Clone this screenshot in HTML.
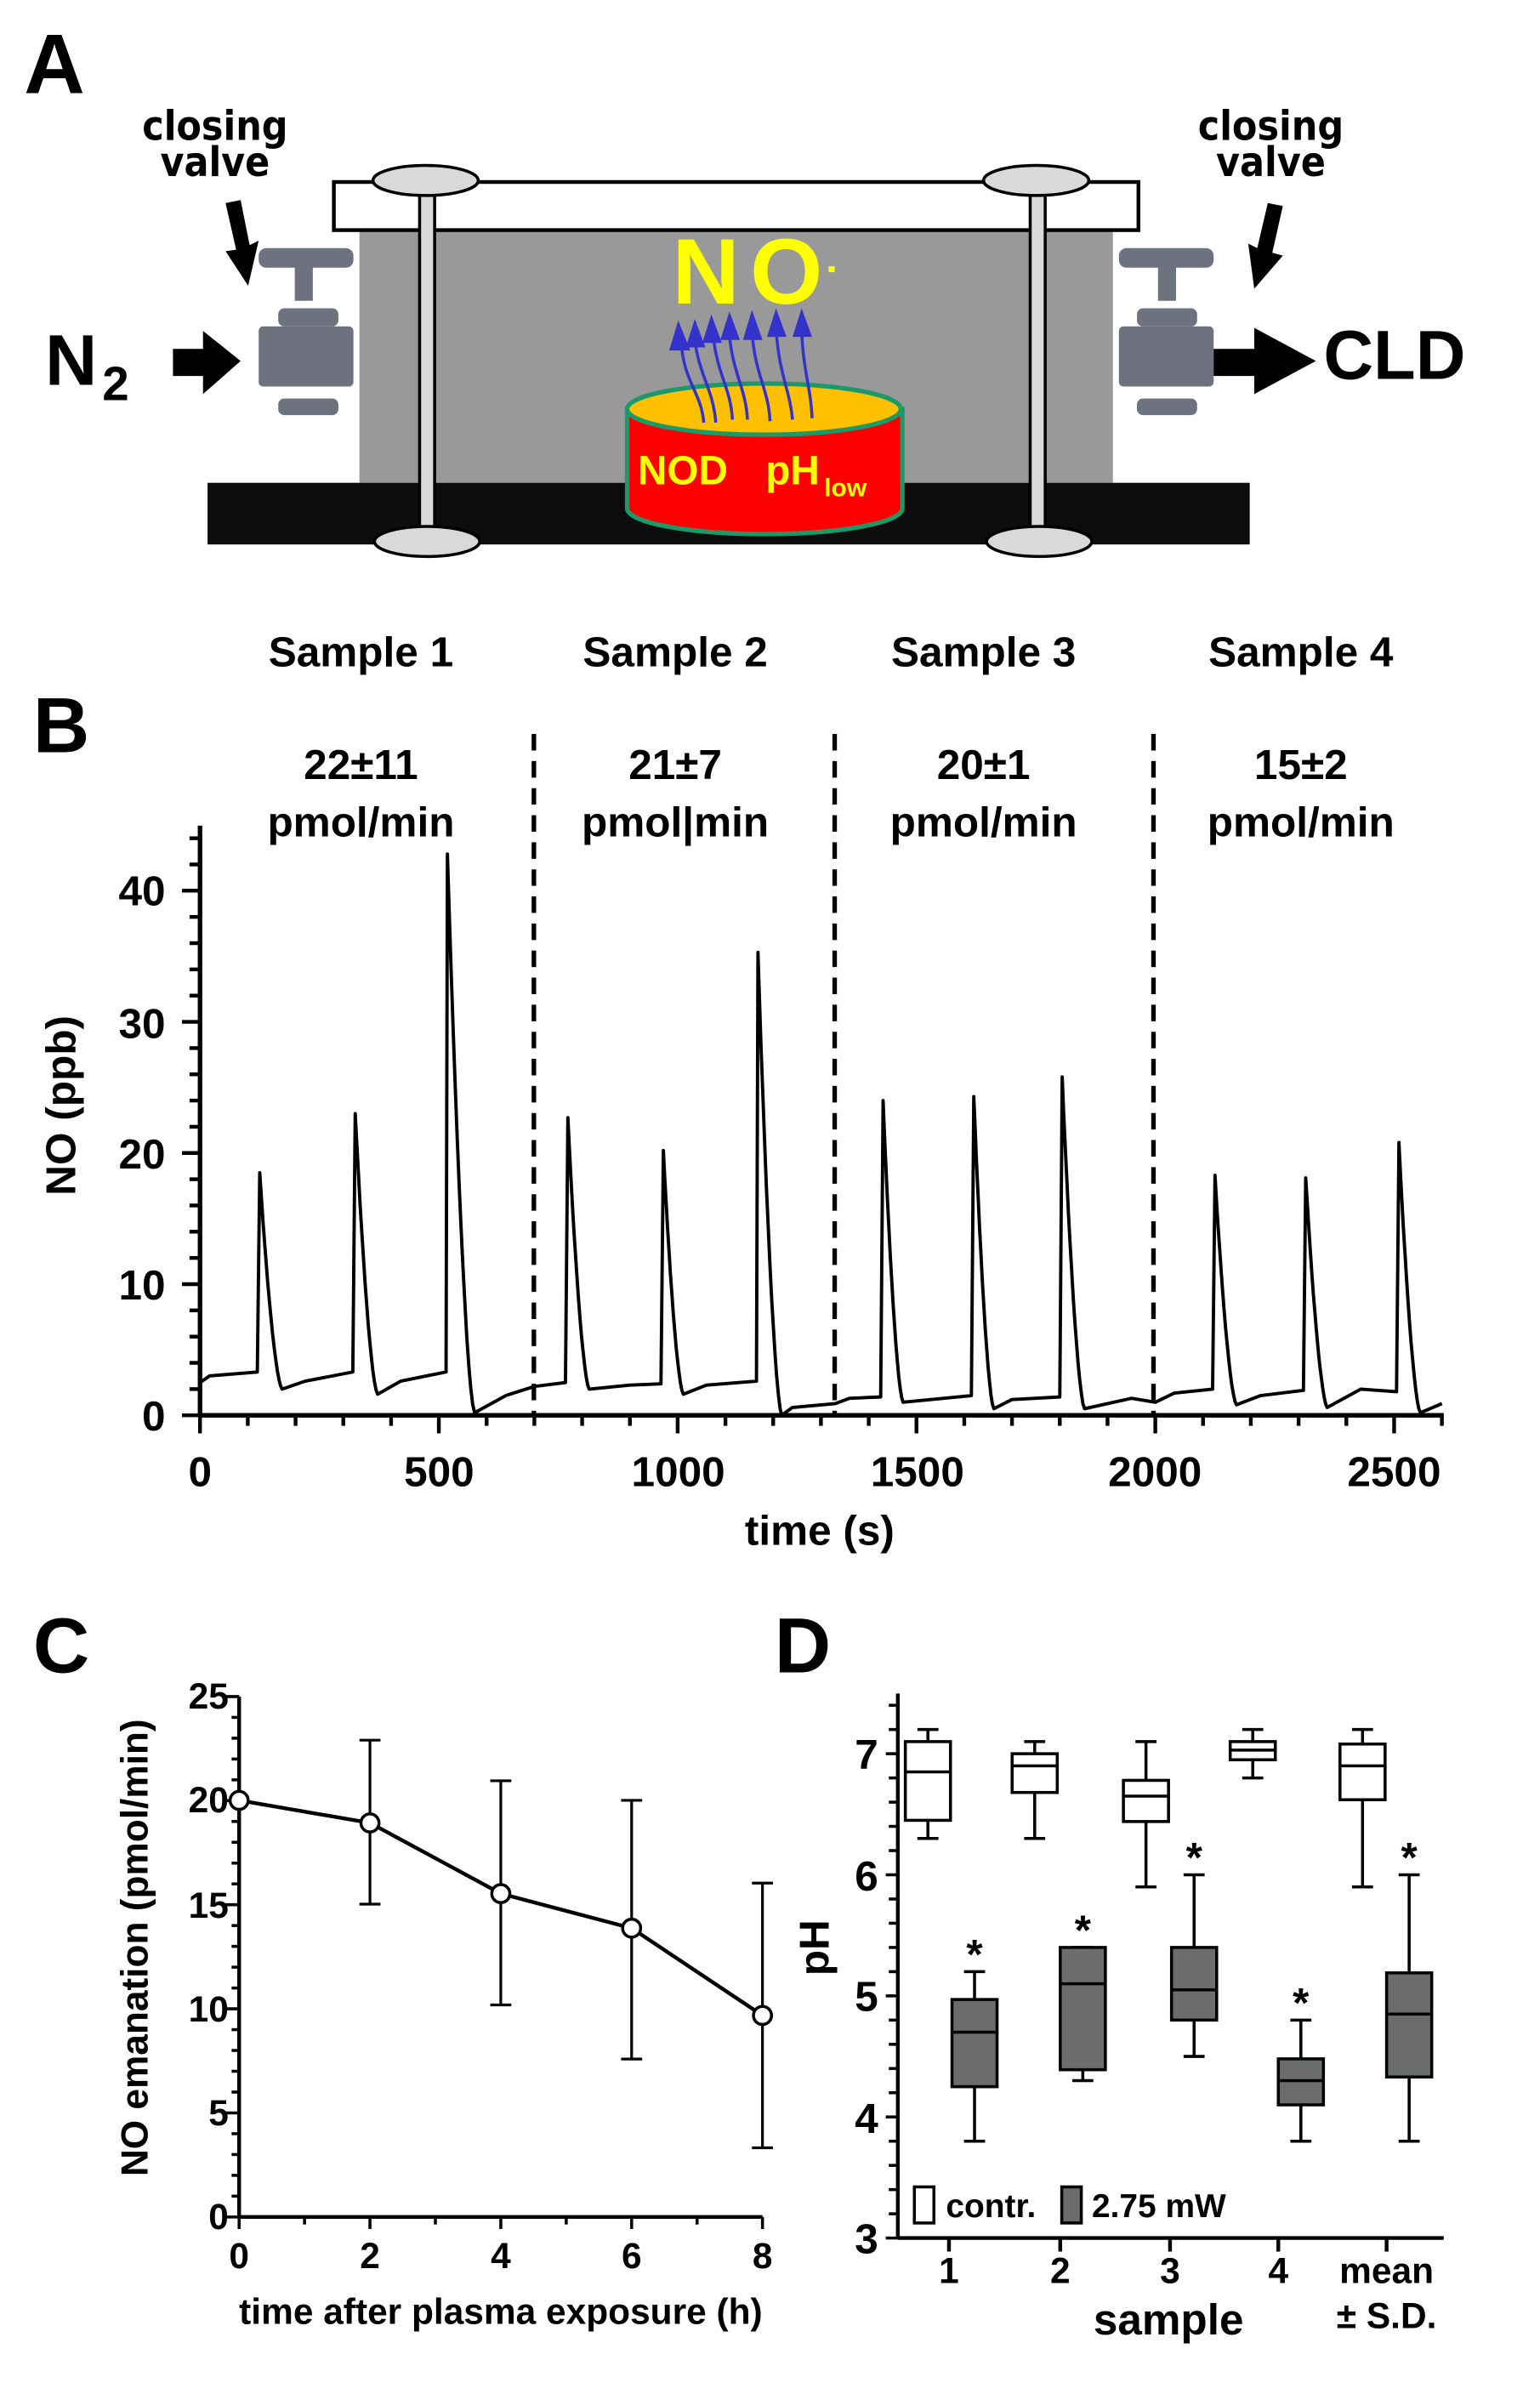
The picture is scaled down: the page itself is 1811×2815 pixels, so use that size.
<!DOCTYPE html>
<html><head><meta charset="utf-8"><style>
html,body{margin:0;padding:0;background:#fff}
svg{display:block}
text{font-family:"Liberation Sans",sans-serif;font-weight:bold;fill:#000}
</style></head><body>
<svg xmlns="http://www.w3.org/2000/svg" width="1811" height="2815" viewBox="0 0 1024 1591.7">
<!-- Panel A -->
<text x="16" y="62" font-size="56">A</text>
<text x="143" y="93" font-size="27" text-anchor="middle" style="font-family:'DejaVu Sans Condensed','Liberation Sans Narrow',sans-serif">closing</text>
<text x="143" y="117" font-size="27" text-anchor="middle" style="font-family:'DejaVu Sans Condensed','Liberation Sans Narrow',sans-serif">valve</text>
<text x="845" y="93" font-size="27" text-anchor="middle" style="font-family:'DejaVu Sans Condensed','Liberation Sans Narrow',sans-serif">closing</text>
<text x="845" y="117" font-size="27" text-anchor="middle" style="font-family:'DejaVu Sans Condensed','Liberation Sans Narrow',sans-serif">valve</text>
<rect x="239" y="153" width="501" height="168" fill="#999"/>
<rect x="222" y="121" width="535" height="32" fill="#fff" stroke="#000" stroke-width="2.5"/>
<rect x="138" y="321" width="693" height="41" fill="#0d0d0d"/>
<g fill="#d9d9d9" stroke="#000" stroke-width="2">
<rect x="279" y="126" width="10" height="230"/>
<rect x="685" y="126" width="10" height="230"/>
<ellipse cx="283" cy="120" rx="35" ry="10"/><ellipse cx="689" cy="120" rx="35" ry="10"/>
<ellipse cx="284" cy="360" rx="35" ry="10"/><ellipse cx="691" cy="360" rx="35" ry="10"/>
</g>
<g fill="#6e727e">
<rect x="172" y="165" width="63" height="13" rx="5"/><rect x="196" y="176" width="12" height="24"/>
<rect x="185" y="205" width="40" height="12" rx="4"/><rect x="172" y="217" width="63" height="40" rx="3"/>
<rect x="185" y="265" width="40" height="11" rx="4"/>
<rect x="744" y="165" width="63" height="13" rx="5"/><rect x="770" y="176" width="12" height="24"/>
<rect x="756" y="205" width="40" height="12" rx="4"/><rect x="744" y="217" width="63" height="40" rx="3"/>
<rect x="756" y="265" width="40" height="11" rx="4"/>
</g>
<g fill="#000">
<polygon points="115,232 135,232 135,220 160,240 135,262 135,250 115,250"/>
<polygon points="807,232 834,232 834,218 875,240 834,262 834,250 807,250"/>
<polygon points="150,135 160,133 166,163 172,160 165,190 150,167 157,166"/>
<polygon points="853,137 843,135 836,165 830,162 834,192 853,170 846,168"/>
</g>
<text x="30" y="256" font-size="48">N</text><text x="68" y="266" font-size="32">2</text>
<text x="880" y="252" font-size="46">CLD</text>
<text x="447" y="202" font-size="62" textLength="100" fill="#ffff00" style="fill:#ffff00">NO</text>
<rect x="551" y="177" width="4" height="4" fill="#ffff00"/>
<path d="M417,272 L417,338 A91,17 0 0 0 600,338 L600,272 Z" fill="#ff0000" stroke="#1a9a6a" stroke-width="3"/>
<ellipse cx="508" cy="272" rx="91" ry="17" fill="#ffc000" stroke="#1a9a6a" stroke-width="3"/>
<text x="424" y="322" font-size="27" fill="#ffff00" style="fill:#ffff00">NOD</text>
<text x="509" y="322" font-size="27" fill="#ffff00" style="fill:#ffff00">pH</text>
<text x="548" y="330" font-size="17" fill="#ffff00" style="fill:#ffff00">low</text>
<g stroke="#3333cc" stroke-width="2" fill="none">
<path d="M468,281 C466,260 455,255 453,228"/><path d="M476,281 C474,258 465,250 462,226"/>
<path d="M487,279 C486,258 477,250 474,222"/><path d="M497,279 C496,258 487,248 485,222"/>
<path d="M512,280 C511,258 502,250 500,220"/><path d="M527,279 C525,258 518,250 516,218"/>
<path d="M540,278 C539,256 534,248 533,218"/>
</g>
<g fill="#3333cc">
<polygon points="445,233 451,213 459,233"/><polygon points="456,231 462,212 469,231"/>
<polygon points="467,228 473,209 480,228"/><polygon points="479,226 485,207 492,226"/>
<polygon points="494,226 500,206 507,226"/><polygon points="510,224 516,205 523,224"/>
<polygon points="527,224 533,205 540,224"/>
</g>

<!-- Panel B -->
<g font-size="28" text-anchor="middle">
<text x="240" y="443">Sample 1</text><text x="449" y="443">Sample 2</text>
<text x="654" y="443">Sample 3</text><text x="865" y="443">Sample 4</text>
<text x="240" y="518">22±11</text><text x="449" y="518">21±7</text>
<text x="654" y="518">20±1</text><text x="865" y="518">15±2</text>
<text x="240" y="556">pmol/min</text><text x="449" y="556">pmol|min</text>
<text x="654" y="556">pmol/min</text><text x="865" y="556">pmol/min</text>
</g>
<text x="22" y="500" font-size="52">B</text>
<g stroke="#000" stroke-width="3" stroke-dasharray="11,7">
<line x1="355" y1="488" x2="355" y2="941"/><line x1="555" y1="488" x2="555" y2="941"/><line x1="767" y1="488" x2="767" y2="941"/>
</g>
<g id="bticks" stroke="#000" stroke-width="2.5"></g>
<line x1="133" y1="549" x2="133" y2="941" stroke="#000" stroke-width="3"/>
<line x1="133" y1="941" x2="960" y2="941" stroke="#000" stroke-width="3"/>
<path id="trace" fill="none" stroke="#000" stroke-width="2.2" stroke-linejoin="round"/>
<g font-size="28" text-anchor="end">
<text x="110" y="951">0</text><text x="110" y="864">10</text><text x="110" y="777">20</text>
<text x="110" y="690">30</text><text x="110" y="602">40</text>
</g>
<g font-size="28" text-anchor="middle">
<text x="133" y="988">0</text><text x="292" y="988">500</text><text x="451" y="988">1000</text>
<text x="610" y="988">1500</text><text x="768" y="988">2000</text><text x="927" y="988">2500</text>
<text x="545" y="1027">time (s)</text>
</g>
<text transform="translate(50,735) rotate(-90)" font-size="28" text-anchor="middle">NO (ppb)</text>

<!-- Panel C -->
<text x="22" y="1112" font-size="52">C</text>
<g id="cticks" stroke="#000" stroke-width="2"></g>
<line x1="159" y1="1128" x2="159" y2="1474" stroke="#000" stroke-width="2.5"/>
<line x1="159" y1="1474" x2="507" y2="1474" stroke="#000" stroke-width="2.5"/>
<g font-size="24" text-anchor="end">
<text x="152" y="1482" font-weight="normal">0</text><text x="152" y="1413">5</text><text x="152" y="1344">10</text>
<text x="152" y="1275">15</text><text x="152" y="1205">20</text><text x="152" y="1136">25</text>
</g>
<g font-size="24" text-anchor="middle">
<text x="159" y="1508">0</text><text x="246" y="1508">2</text><text x="333" y="1508">4</text>
<text x="420" y="1508">6</text><text x="507" y="1508">8</text>
<text x="333" y="1545">time after plasma exposure (h)</text>
</g>
<text transform="translate(98,1295) rotate(-90)" font-size="25" text-anchor="middle">NO emanation (pmol/min)</text>
<g stroke="#000" stroke-width="1.8">
<line x1="246" y1="1157" x2="246" y2="1266"/><line x1="239" y1="1157" x2="253" y2="1157"/><line x1="239" y1="1266" x2="253" y2="1266"/>
<line x1="333" y1="1184" x2="333" y2="1333"/><line x1="326" y1="1184" x2="340" y2="1184"/><line x1="326" y1="1333" x2="340" y2="1333"/>
<line x1="420" y1="1197" x2="420" y2="1369"/><line x1="413" y1="1197" x2="427" y2="1197"/><line x1="413" y1="1369" x2="427" y2="1369"/>
<line x1="507" y1="1252" x2="507" y2="1428"/><line x1="500" y1="1252" x2="514" y2="1252"/><line x1="500" y1="1428" x2="514" y2="1428"/>
</g>
<polyline points="159,1197 246,1212 333,1259 420,1282 507,1340" fill="none" stroke="#000" stroke-width="2.5"/>
<g fill="#fff" stroke="#000" stroke-width="2">
<circle cx="159" cy="1197" r="6"/><circle cx="246" cy="1212" r="6"/><circle cx="333" cy="1259" r="6"/>
<circle cx="420" cy="1282" r="6"/><circle cx="507" cy="1340" r="6"/>
</g>

<!-- Panel D -->
<text x="515" y="1112" font-size="52">D</text>
<g id="dticks" stroke="#000" stroke-width="2"></g>
<line x1="597" y1="1126" x2="597" y2="1488" stroke="#000" stroke-width="2.5"/>
<line x1="597" y1="1488" x2="960" y2="1488" stroke="#000" stroke-width="2.5"/>
<g stroke="#000" stroke-width="2.5">
<line x1="631" y1="1488" x2="631" y2="1497"/><line x1="705" y1="1488" x2="705" y2="1497"/>
<line x1="778" y1="1488" x2="778" y2="1497"/><line x1="850" y1="1488" x2="850" y2="1497"/>
<line x1="922" y1="1488" x2="922" y2="1497"/>
</g>
<g font-size="28" text-anchor="end">
<text x="584" y="1498">3</text><text x="584" y="1418">4</text><text x="584" y="1337">5</text>
<text x="584" y="1257">6</text><text x="584" y="1176">7</text>
</g>
<g font-size="24" text-anchor="middle">
<text x="631" y="1518">1</text><text x="705" y="1518">2</text><text x="778" y="1518">3</text>
<text x="850" y="1518">4</text><text x="922" y="1518">mean</text><text x="922" y="1548">± S.D.</text>
<text x="777" y="1552" font-size="29">sample</text>
</g>
<text transform="translate(551,1295) rotate(-90)" font-size="28" text-anchor="middle">pH</text>
<g id="boxes"></g>
<rect x="608" y="1454" width="13" height="24" fill="#fff" stroke="#000" stroke-width="2"/>
<text x="629" y="1474" font-size="22">contr.</text>
<rect x="706" y="1454" width="13" height="24" fill="#6b6d6d" stroke="#000" stroke-width="2"/>
<text x="726" y="1474" font-size="22">2.75 mW</text>
</svg>
<script>
var NS="http://www.w3.org/2000/svg";
function L(g,x1,y1,x2,y2){var l=document.createElementNS(NS,"line");l.setAttribute("x1",x1);l.setAttribute("y1",y1);l.setAttribute("x2",x2);l.setAttribute("y2",y2);g.appendChild(l);}
function R(g,x,y,w,h,f){var r=document.createElementNS(NS,"rect");r.setAttribute("x",x);r.setAttribute("y",y);r.setAttribute("width",w);r.setAttribute("height",h);r.setAttribute("fill",f);r.setAttribute("stroke","#000");r.setAttribute("stroke-width","2");g.appendChild(r);}
var bt=document.getElementById("bticks");
for(var v=0;v<=44;v+=2){var y=941-v*8.72;L(bt,v%10==0?121:126,y,133,y);}
for(var t=0;t<=2600;t+=100){var x=133+t*0.3176;L(bt,x,941,x,t%500==0?953:948);}
var seq=[[0,2.5],[20,3.0],[120,3.3],['p',125,18.5,172,2.0],[220,2.6],[320,3.3],['p',325,23,372,1.6],[420,2.6],[515,3.3],
['p',518,42.8,575,0.2],[640,1.5],[700,2.2],[765,2.5],['p',770,22.7,815,2.0],[900,2.3],[965,2.4],['p',970,20.2,1012,1.6],[1060,2.3],[1165,2.6],
['p',1168,35.3,1218,0],[1240,0.6],[1330,0.9],[1360,1.3],[1425,1.4],['p',1430,24,1472,1.0],[1615,1.5],['p',1620,24.3,1662,0.5],[1700,1.2],[1800,1.4],
['p',1805,25.8,1852,0.5],[1950,1.3],[2000,1.0],[2040,1.7],[2120,2.0],['p',2125,18.3,2170,0.8],[2220,1.5],[2310,1.9],['p',2315,18.1,2360,0.6],[2430,2.0],[2505,1.8],
['p',2510,20.8,2555,0.2],[2600,0.9]];
var pts=[];
seq.forEach(function(s){
 if(s[0]==='p'){var t=s[1],P=s[2],tm=s[3],vm=s[4];pts.push([t,P]);
  for(var k=1;k<=14;k++){var u=k/14;pts.push([t+(tm-t)*u,vm+(P-vm)*Math.pow(1-u,1.6)]);}}
 else pts.push(s);});
var d=pts.map(function(p,i){return (i?"L":"M")+(133+p[0]*0.3176).toFixed(1)+","+(941-p[1]*8.72).toFixed(1);}).join(" ");
document.getElementById("trace").setAttribute("d",d);
var ct=document.getElementById("cticks");
for(var v=0;v<=25;v++){var y=1474-v*13.84;L(ct,v%5==0?150:154,y,159,y);}
for(var h=0;h<=8;h++){var x=159+h*43.5;L(ct,x,1474,x,h%2==0?1482:1479);}
var dt=document.getElementById("dticks");
for(var i=0;i<=22;i++){var p=3+i*0.2;var y=1488-(p-3)*80.5;L(dt,Math.abs(p-Math.round(p))<0.01?589:591,y,597,y);}
var bx=document.getElementById("boxes");
function Y(p){return 1488-(p-3)*80.5;}
function box(cx,w0,q1,q3,med,w1,fill,star){var g=document.createElementNS(NS,"g");g.setAttribute("stroke","#000");g.setAttribute("stroke-width","2");
 L(g,cx,Y(w1),cx,Y(w0));L(g,cx-7,Y(w1),cx+7,Y(w1));L(g,cx-7,Y(w0),cx+7,Y(w0));
 R(g,cx-15,Y(q3),30,Y(q1)-Y(q3),fill);L(g,cx-15,Y(med),cx+15,Y(med));bx.appendChild(g);
 if(star){var t=document.createElementNS(NS,"text");t.setAttribute("x",cx);t.setAttribute("y",Y(w1)-2);t.setAttribute("font-size","28");t.setAttribute("text-anchor","middle");t.textContent="*";bx.appendChild(t);}}
var G="#6b6d6d";
box(617,6.3,6.45,7.1,6.85,7.2,"#fff");box(688,6.3,6.68,7.0,6.9,7.1,"#fff");box(762,5.9,6.44,6.78,6.65,7.1,"#fff");
box(833,6.8,6.95,7.1,7.03,7.2,"#fff");box(906,5.9,6.62,7.08,6.9,7.2,"#fff");
box(648,3.8,4.25,4.97,4.7,5.2,G,1);box(720,4.3,4.39,5.4,5.1,5.4,G,1);box(794,4.5,4.8,5.4,5.05,6.0,G,1);
box(865,3.8,4.1,4.48,4.3,4.8,G,1);box(937,3.8,4.33,5.19,4.85,6.0,G,1);
</script>
</body></html>
